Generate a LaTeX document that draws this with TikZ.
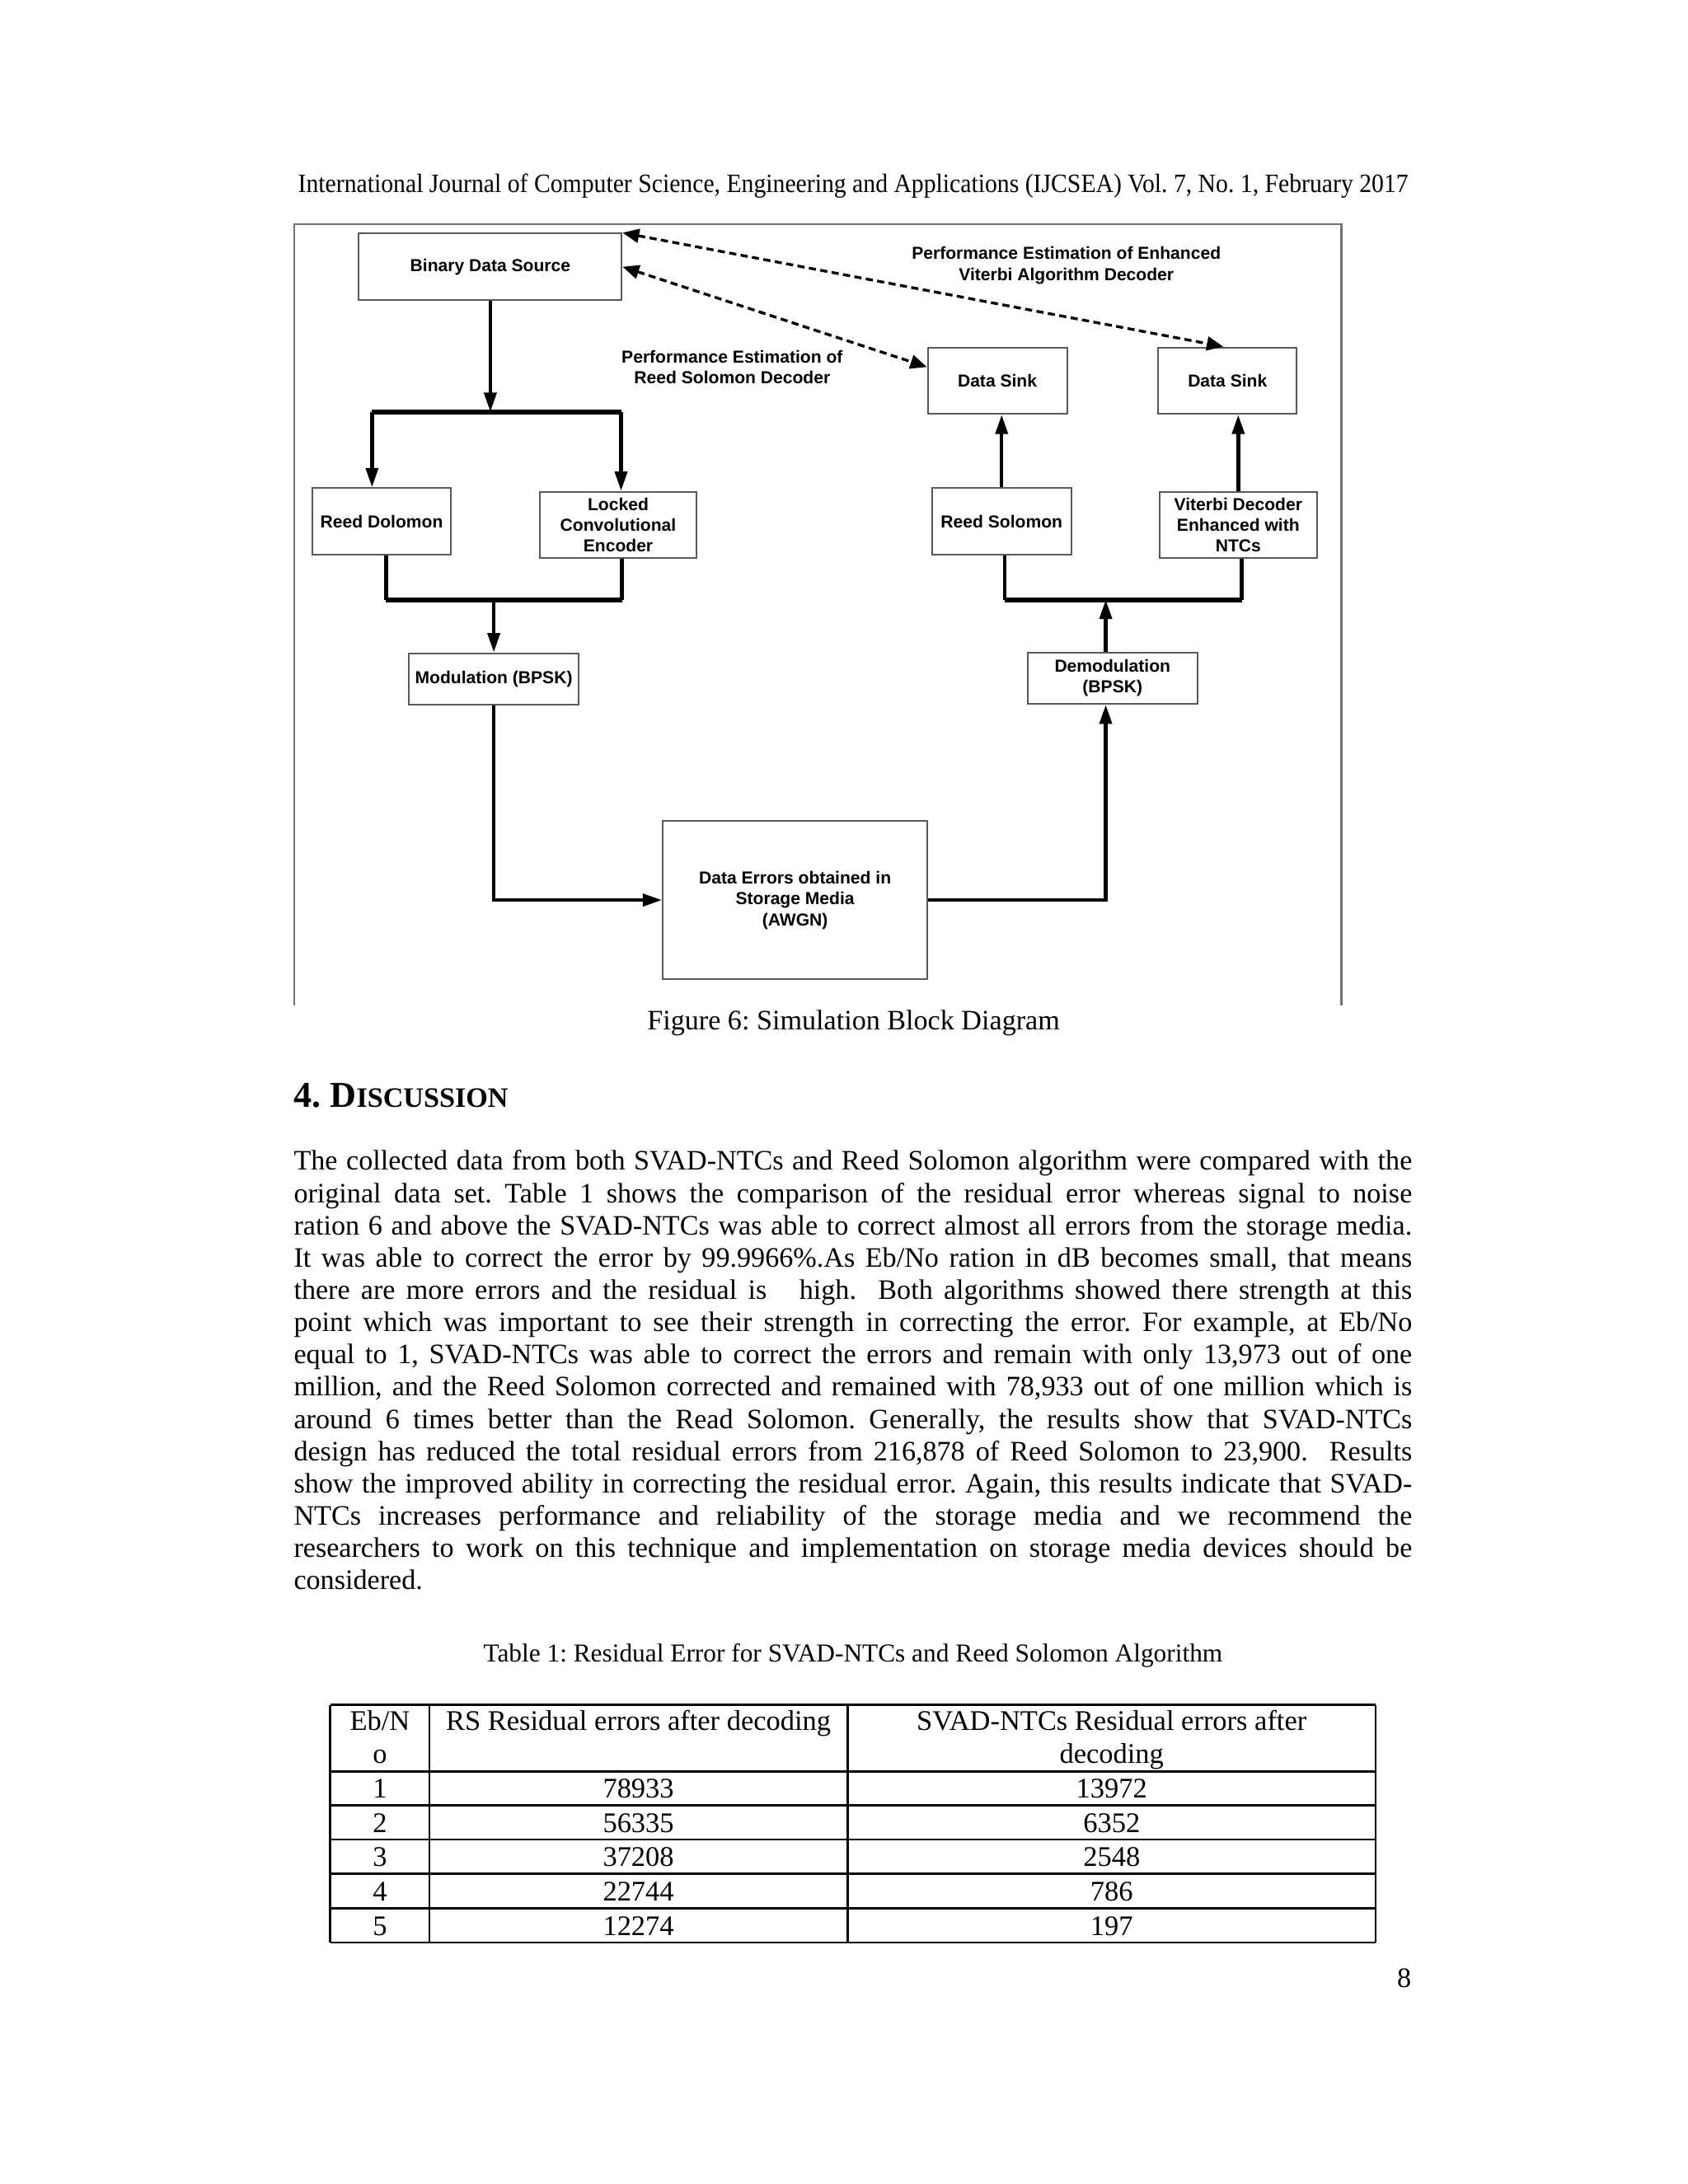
\documentclass[tikz,border=0pt]{standalone}
\usepackage{fontspec}
\setmainfont{Liberation Serif}
\newfontfamily\diagfont{Liberation Sans}
\usepackage{graphicx}
\usetikzlibrary{arrows.meta,positioning}
\frenchspacing

\tikzset{
  blk/.style={draw=black!65, line width=0.6pt, fill=white, inner sep=1pt, align=center,
    font=\diagfont\bfseries\fontsize{6.3}{7.6}\selectfont},
  link/.style={line width=1.3pt},
  flow/.style={link, -{Triangle[width=4.4pt,length=7pt]}},
  bus/.style={line width=1.8pt},
  perf/.style={line width=1pt, dash pattern=on 2.6pt off 1.6pt,
    {Triangle[width=5pt,length=6pt]}-{Triangle[width=5pt,length=6pt]}},
  lbl/.style={align=center, inner sep=0pt, font=\diagfont\bfseries\fontsize{6.3}{7.65}\selectfont},
  figframe/.style={draw=black!55, line width=0.6pt},
  txt/.style={inner sep=0pt, font=\fontsize{10.2}{11.7}\selectfont},
  cell/.style={anchor=base, inner sep=0pt, font=\fontsize{10.3}{12}\selectfont},
  tabrule/.style={line width=0.8pt}
}

\begin{document}
\begin{tikzpicture}[x=0.5pt, y=-0.5pt]
  \fill[white] (0,0) rectangle (1224,1584);
  \useasboundingbox (0,0) rectangle (1224,1584);

  % running head
  \node[anchor=base, inner sep=0pt] (runhead) at (618.75,139.5)
    {\scalebox{0.925}[1]{\fontsize{9.6}{11}\selectfont International Journal of Computer Science, Engineering and Applications (IJCSEA) Vol. 7, No. 1, February 2017}};

  % figure frame
  \draw[figframe] (213.2,729) -- (213.2,162.4) -- (972.8,162.4) -- (972.8,729);

  % blocks
  \node[blk, minimum width=95.3pt, minimum height=24.1pt] (bds) at (355.6,193.5) {Binary Data Source};
  \node[blk, minimum width=50.5pt, minimum height=24.1pt] (sinkrs) at (723.3,276.1) {Data Sink};
  \node[blk, minimum width=50.25pt, minimum height=24.1pt] (sinkva) at (890.2,276.1) {Data Sink};
  \node[blk, minimum width=50.4pt, minimum height=24.2pt] (rsenc) at (276.8,378.2) {Reed Dolomon};
  \node[blk, minimum width=56.75pt, minimum height=24.1pt] (lce) at (448.3,380.7) {Locked\\Convolutional\\Encoder};
  \node[blk, minimum width=50.65pt, minimum height=24.2pt] (rsdec) at (726.4,378.2) {Reed Solomon};
  \node[blk, minimum width=57pt, minimum height=24.1pt] (vdec) at (898,380.7) {Viterbi Decoder\\Enhanced with\\NTCs};
  \node[blk, minimum width=61.7pt, minimum height=18.65pt] (mod) at (358.1,492.4) {Modulation (BPSK)};
  \node[blk, minimum width=61.5pt, minimum height=18.65pt] (demod) at (806.8,491.8) {Demodulation\\(BPSK)};
  \node[blk, minimum width=95.9pt, minimum height=57.45pt] (awgn) at (576.6,652.8) {Data Errors obtained in\\Storage Media\\(AWGN)};

  % labels of the dashed links
  \node[lbl] (perfva) at (773.3,192.5) {Performance Estimation of Enhanced\\Viterbi Algorithm Decoder};
  \node[lbl] (perfrs) at (531,266.2) {Performance Estimation of\\Reed Solomon Decoder};

  % bus points
  \coordinate (busAl) at (269.8,298.8);
  \coordinate (busAr) at (450.4,298.8);
  \coordinate (busBl) at (280,434.9);
  \coordinate (busBr) at (451,434.9);
  \coordinate (busCl) at (728.5,434.9);
  \coordinate (busCr) at (900.5,434.9);
  \coordinate (tapR) at (801.9,434.9);

  % transmitter side
  \draw[flow] (bds.south) -- (bds.south |- busAl);
  \draw[bus] (busAl) -- (busAr);
  \draw[flow] (busAl) -- (busAl |- rsenc.north);
  \draw[flow] (busAr) -- (busAr |- lce.north);
  \draw[link] (busBl |- rsenc.south) -- (busBl);
  \draw[link] (busBr |- lce.south) -- (busBr);
  \draw[bus] (busBl) -- (busBr);
  \draw[flow] (busBl -| mod.north) -- (mod.north);
  \draw[flow] (mod.south) |- (awgn.west);

  % receiver side
  \draw[flow] (awgn.east) -| (tapR |- demod.south);
  \draw[flow] (tapR |- demod.north) -- (tapR);
  \draw[bus] (busCl) -- (busCr);
  \draw[link] (busCl) -- (busCl |- rsdec.south);
  \draw[link] (busCr) -- (busCr |- vdec.south);
  \draw[flow] (rsdec.north) -- (rsdec.north |- sinkrs.south);
  \draw[flow] (vdec.north) -- (vdec.north |- sinkva.south);

  % performance estimation
  \draw[perf] (bds.east) -- (sinkrs.169);
  \draw[perf] (bds.north east) -- (sinkva.97);

  \node[txt, anchor=base] (figcap) at (619,747) {Figure 6: Simulation Block Diagram};

  % section text
  \node[anchor=base west, inner sep=0pt, font=\bfseries] (sechead) at (212.7,802.9)
    {\fontsize{13.2}{14}\selectfont 4. D\fontsize{10.2}{12}\selectfont ISCUSSION};
  \node[txt, anchor=base west, text width=405.5pt, align=justify] (body) at (212.7,848.7)
    {The collected data from both SVAD-NTCs and Reed Solomon algorithm were compared with the\linebreak
     original data set. Table 1 shows the comparison of the residual error whereas signal to noise\linebreak
     ration 6 and above the SVAD-NTCs was able to correct almost all errors from the storage media.\linebreak
     It was able to correct the error by 99.9966\%.As Eb/No ration in dB becomes small, that means\linebreak
     there are more errors and the residual is\ \ \ high.\ \ Both algorithms showed there strength at this\linebreak
     point which was important to see their strength in correcting the error. For example, at Eb/No\linebreak
     equal to 1, SVAD-NTCs was able to correct the errors and remain with only 13,973 out of one\linebreak
     million, and the Reed Solomon corrected and remained with 78,933 out of one million which is\linebreak
     around 6 times better than the Read Solomon. Generally, the results show that SVAD-NTCs\linebreak
     design has reduced the total residual errors from 216,878 of Reed Solomon to 23,900.\ \ Results\linebreak
     show the improved ability in correcting the residual error. Again, this results indicate that SVAD-\linebreak
     NTCs increases performance and reliability of the storage media and we recommend the\linebreak
     researchers to work on this technique and implementation on storage media devices should be\linebreak
     considered.};

  % table
  \node[anchor=base, inner sep=0pt, font=\fontsize{9.37}{11}\selectfont] (tabcap) at (618.6,1205.3)
    {Table 1: Residual Error for SVAD-NTCs and Reed Solomon Algorithm};
  \foreach \y in {1236.6,1285,1309.3,1334.2,1359.1,1384,1408.9}
    \draw[tabrule] (239.5,\y) -- (997.7,\y);
  \foreach \x in {239.5,311.4,614.6,997.7}
    \draw[tabrule] (\x,1236.6) -- (\x,1408.9);
  \node[cell] (h1a) at (275.5,1255) {Eb/N};
  \node[cell] (h1b) at (275.5,1279) {o};
  \node[cell] (h2) at (463,1255) {RS Residual errors after decoding};
  \node[cell] (h3a) at (806.2,1255) {SVAD-NTCs Residual errors after};
  \node[cell] (h3b) at (806.2,1279) {decoding};
  \foreach \n/\rs/\sv [count=\i] in {1/78933/13972, 2/56335/6352, 3/37208/2548, 4/22744/786, 5/12274/197} {
    \node[cell] (eb\i) at (275.5,{1303.9+24.9*(\i-1)}) {\n};
    \node[cell] (rs\i) at (463,{1303.9+24.9*(\i-1)}) {\rs};
    \node[cell] (sv\i) at (806.2,{1303.9+24.9*(\i-1)}) {\sv};
  }

  \node[txt, anchor=base east] (pagenum) at (1023.8,1441.4) {8};
\end{tikzpicture}
\end{document}
